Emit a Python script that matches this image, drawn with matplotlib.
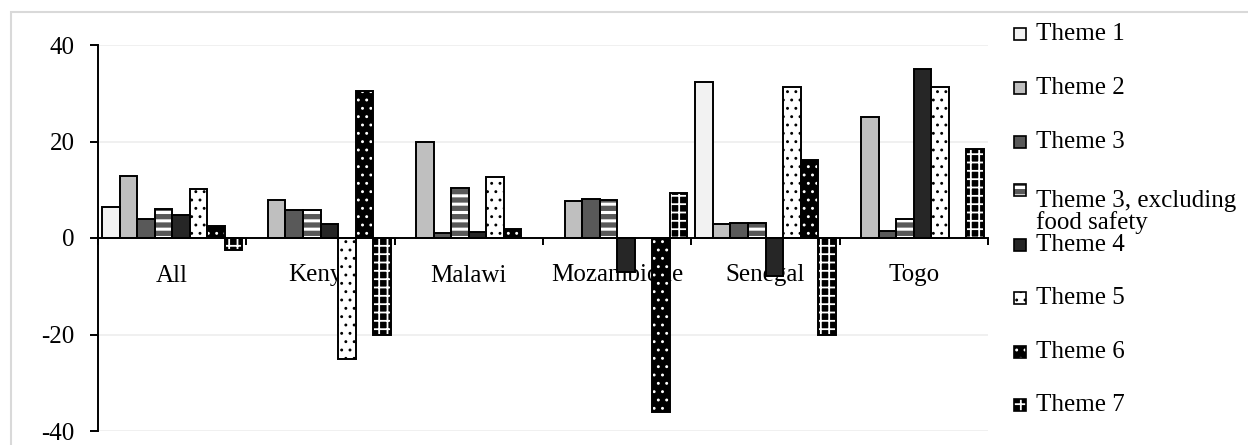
import numpy as np
import matplotlib
matplotlib.use("Agg")
import matplotlib.pyplot as plt
from matplotlib.patches import Rectangle

plt.rcParams['font.family'] = ['Liberation Serif', 'DejaVu Serif']

countries = ["All", "Kenya", "Malawi", "Mozambique", "Senegal", "Togo"]
series_names = ["Theme 1", "Theme 2", "Theme 3", "Theme 3, excluding\nfood safety",
                "Theme 4", "Theme 5", "Theme 6", "Theme 7"]

theme1 = [6.5, None, None, None, 32.4, None]
theme2 = [12.9, 7.9, 19.9, 7.7, 2.8, 25.1]
theme3 = [3.9, 5.9, 1.0, 8.1, 3.2, 1.4]
theme3_excl = [6.1, 5.7, 10.3, 7.8, 3.2, 3.9]
theme4 = [4.8, 3.0, 1.3, -7.0, -7.8, 35.0]
theme5 = [10.1, -25.0, 12.6, None, 31.2, 31.2]
theme6 = [2.5, 30.5, 1.8, -36.0, 16.1, None]
theme7 = [-2.5, -20.0, None, 9.3, -20.0, 18.4]

series = [theme1, theme2, theme3, theme3_excl, theme4, theme5, theme6, theme7]

# fill colour, hatch pattern, hatch colour, hatch line width
styles = [
    ("#f2f2f2", None, None, 0),
    ("#bfbfbf", None, None, 0),
    ("#595959", None, None, 0),
    ("#595959", "--", "white", 2.2),
    ("#262626", None, None, 0),
    ("white", "..", "black", 0.9),
    ("black", "..", "white", 0.9),
    ("black", "++", "white", 1.3),
]

fig = plt.figure(figsize=(12.48, 4.45), dpi=100)
ax = fig.add_axes([98 / 1248, 1 - 431 / 445, (988 - 98) / 1248, (431 - 45) / 445])

n = len(series)
width = 0.118
x = np.arange(len(countries)) + 0.5


def draw_bar(a, xs, hs, face, hatch, hcolor, hlw):
    a.bar(xs, hs, width, color=face, edgecolor="none", linewidth=0, zorder=3)
    if hatch:
        with plt.rc_context({"hatch.linewidth": hlw}):
            a.bar(xs, hs, width, facecolor="none", edgecolor=hcolor, linewidth=0,
                  hatch=hatch, zorder=4)
    a.bar(xs, hs, width, facecolor="none", edgecolor="black", linewidth=1.4, zorder=5)


for k, (vals, (face, hatch, hcolor, hlw)) in enumerate(zip(series, styles)):
    xs = [x[i] + (k - (n - 1) / 2) * width for i, v in enumerate(vals) if v is not None]
    hs = [v for v in vals if v is not None]
    draw_bar(ax, xs, hs, face, hatch, hcolor, hlw)

ax.set_xlim(0, len(countries))
ax.set_ylim(-40, 40)
ax.set_yticks([-40, -20, 0, 20, 40])
ax.set_yticklabels(["-40", "-20", "0", "20", "40"])
ax.tick_params(axis="y", direction="out", length=6, width=1.4, pad=11, labelsize=18)
ax.set_xticks(np.arange(len(countries) + 1))
ax.set_xticklabels([])
ax.tick_params(axis="x", direction="out", length=5, width=1.4)

for side in ["top", "right"]:
    ax.spines[side].set_visible(False)
ax.spines["left"].set_linewidth(1.4)
ax.spines["bottom"].set_position(("data", 0))
ax.spines["bottom"].set_linewidth(1.4)
ax.spines["bottom"].set_zorder(6)

for yv in [-40, -20, 20, 40]:
    ax.axhline(yv, color="#eeeeee", linewidth=1.2, zorder=0)

for xi, name in zip(x, countries):
    ax.annotate(name, xy=(xi, 0), xytext=(0, -27), textcoords="offset points",
                ha="center", va="center", fontsize=18, zorder=1)

# legend drawn in figure pixel coordinates
W, H = 1248, 445
legend_y = [34, 88, 142, 190, 245, 298, 352, 405]
for (face, hatch, hcolor, hlw), name, yc in zip(styles, series_names, legend_y):
    sq = 12
    x0 = 1014
    fig.add_artist(Rectangle((x0 / W, 1 - (yc + sq / 2) / H), sq / W, sq / H,
                             transform=fig.transFigure, facecolor=face,
                             edgecolor="none", linewidth=0))
    if hatch:
        with plt.rc_context({"hatch.linewidth": hlw}):
            fig.add_artist(Rectangle((x0 / W, 1 - (yc + sq / 2) / H), sq / W, sq / H,
                                     transform=fig.transFigure, facecolor="none",
                                     edgecolor=hcolor, linewidth=0, hatch=hatch))
    fig.add_artist(Rectangle((x0 / W, 1 - (yc + sq / 2) / H), sq / W, sq / H,
                             transform=fig.transFigure, facecolor="none",
                             edgecolor="black", linewidth=1.2))
    fig.text(1036 / W, 1 - yc / H, name, ha="left",
             va="center" if "\n" not in name else "top",
             fontsize=18, linespacing=0.95)

# chart area border
fig.add_artist(Rectangle((11 / W, -0.05), 1.1, 1 - 12 / H + 0.05,
                         transform=fig.transFigure, facecolor="none",
                         edgecolor="#d9d9d9", linewidth=1.5))

fig.savefig("out.png", dpi=100)
